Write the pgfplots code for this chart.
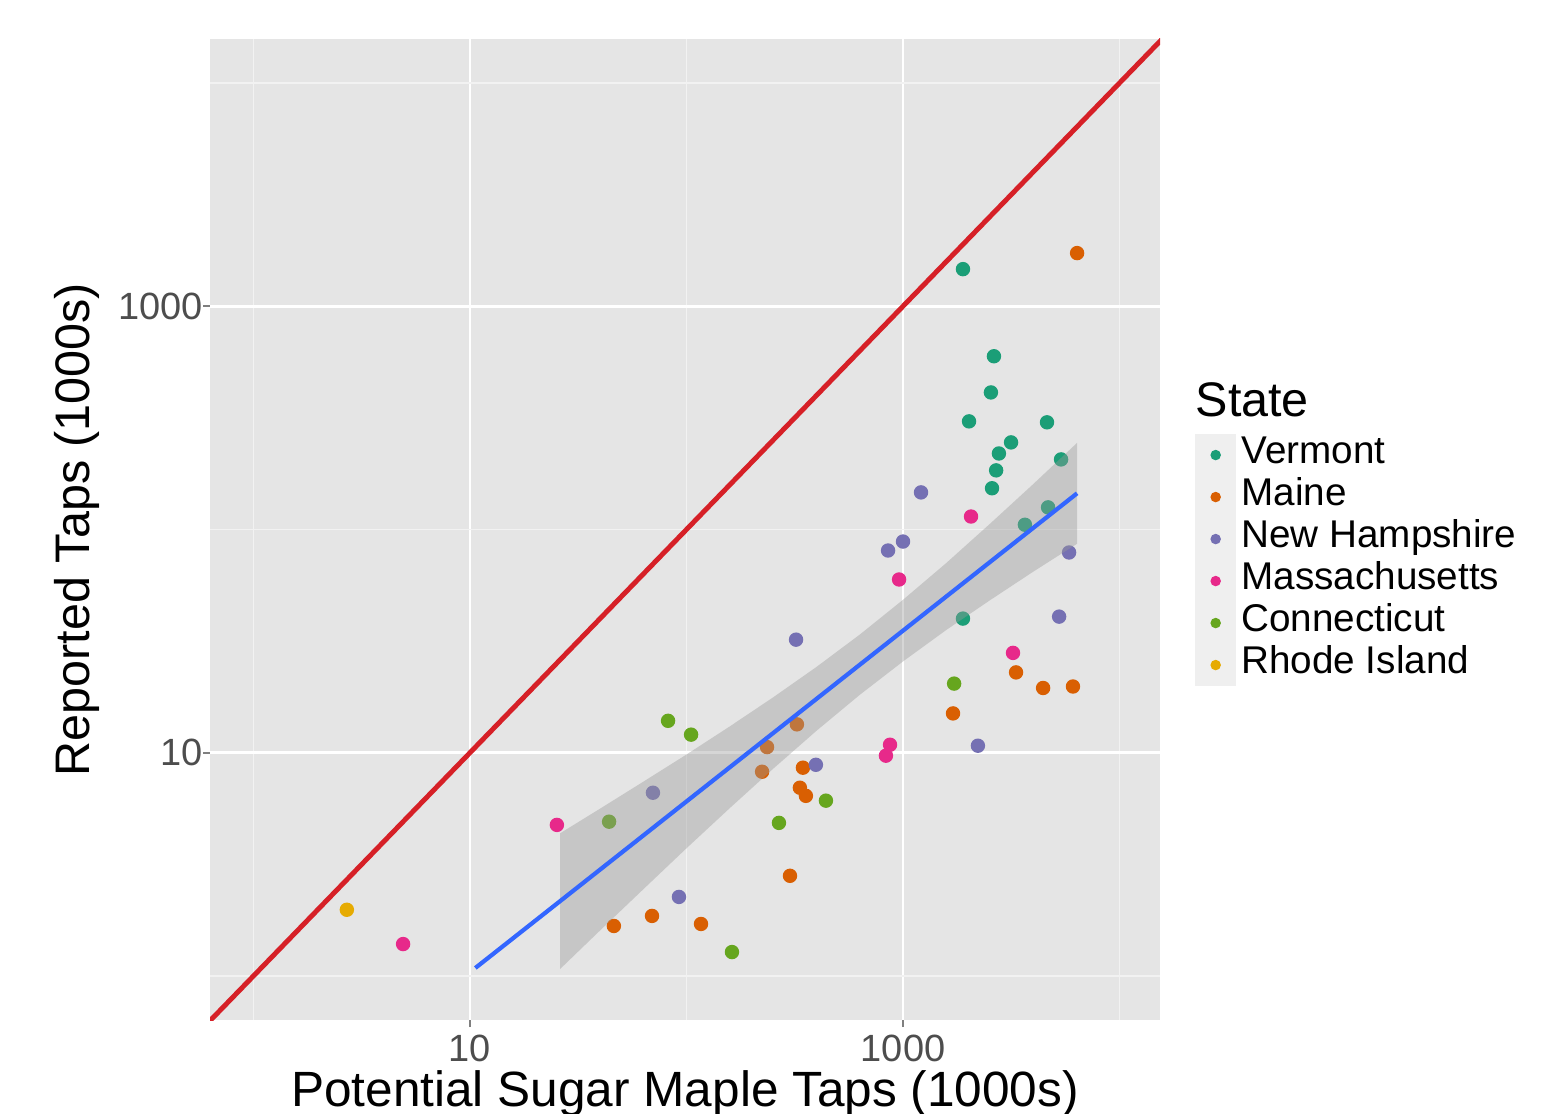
\documentclass[border=0pt]{standalone}
\usepackage{pgfplots}
\pgfplotsset{compat=1.18}
\usepackage{fontspec}
\setmainfont{Liberation Sans}

\definecolor{panelbg}{HTML}{E5E5E5}
\definecolor{minorgrid}{HTML}{F2F2F2}
\definecolor{keybg}{HTML}{EFEFEF}
\definecolor{ticklab}{HTML}{4D4D4D}
\definecolor{tickcol}{HTML}{7F7F7F}
\definecolor{vt}{HTML}{1B9E77}
\definecolor{me}{HTML}{D95F02}
\definecolor{nh}{HTML}{7570B3}
\definecolor{ma}{HTML}{E7298A}
\definecolor{ct}{HTML}{66A61E}
\definecolor{ri}{HTML}{E6AB02}
\definecolor{oneone}{HTML}{D62027}
\definecolor{smooth}{HTML}{3366FF}
\definecolor{band}{HTML}{999999}

\begin{document}
\begin{tikzpicture}
\useasboundingbox (0,0) rectangle (156.8mm,111.3mm);
\begin{axis}[
  at={(21.0mm,9.3mm)}, anchor=south west,
  scale only axis, width=95.0mm, height=98.1mm,
  xmode=log, ymode=log,
  xmin=0.63, xmax=15380, ymin=0.635, ymax=15740,
  clip mode=individual,
  axis background/.style={fill=panelbg},
  axis line style={draw=none},
  xtick={10,1000}, xticklabels={10,1000},
  ytick={10,1000}, yticklabels={10,1000},
  minor xtick={1,100,10000}, minor ytick={1,100,10000},
  xtick pos=left, ytick pos=left,
  grid=both,
  major grid style={white, line width=0.8pt},
  minor grid style={minorgrid, line width=0.45pt},
  tick align=outside, major tick length=0.7mm, minor tick length=0pt,
  tick style={tickcol, line width=0.5pt},
  ticklabel style={font=\fontsize{10.8}{12}\selectfont, text=ticklab},
  xticklabel style={yshift=0.4mm},
  yticklabel style={xshift=1.2mm},
  xlabel={Potential Sugar Maple Taps (1000s)},
  ylabel={Reported Taps (1000s)},
  every axis x label/.style={at={(axis description cs:0.5,0)}, anchor=base,
    yshift=-8.6mm, font=\fontsize{14.1}{16}\selectfont},
  every axis y label/.style={at={(axis description cs:-0.1032,0.5)}, rotate=90,
    anchor=south, font=\fontsize{13.8}{16}\selectfont},
  legend style={at={(axis description cs:1.0368,0.5973)}, anchor=north west,
    draw=none, fill=none, font=\fontsize{11}{13}\selectfont,
    row sep=0pt, inner sep=0pt, outer sep=0pt, column sep=0.5mm,
    nodes={inner sep=0pt, text height=2.9mm, text depth=1.3mm}},
  legend cell align=left,
  legend image code/.code={
    \fill[keybg] (-2mm,-2mm) rectangle (2mm,2mm);
    \draw[#1, mark size=0.45mm] plot coordinates {(0mm,0mm)};
  },
]
% points
\addplot[only marks, mark=*, mark size=0.65mm, color=vt] coordinates {
  (1892,1466) (2630,597) (2547,411) (2018,305) (4624,302) (3155,245.5)
  (2773,219) (2692,184) (2577,153) (5370,206) (4677,125.6) (3656,105)
  (1892,39.9)
};
\addlegendentry{Vermont}
\addplot[only marks, mark=*, mark size=0.65mm, color=me] coordinates {
  (6368,1730) (3327,22.9) (4436,19.5) (6095,19.8) (1702,15.0) (323.6,13.4)
  (235.5,10.6) (223.4,8.22) (345,8.57) (334,6.97) (356,6.41) (300.6,2.81)
  (46.2,1.675) (69.3,1.858) (116.7,1.710)
};
\addlegendentry{Maine}
\addplot[only marks, mark=*, mark size=0.65mm, color=nh] coordinates {
  (1211,146.6) (1000,88.3) (853,80.5) (5848,78.9) (5260,40.7) (320.6,32.1)
  (2218,10.75) (396,8.83) (70.0,6.62) (92.3,2.26)
};
\addlegendentry{New Hampshire}
\addplot[only marks, mark=*, mark size=0.65mm, color=ma] coordinates {
  (2061,114.3) (959,59.7) (3221,28.0) (871,10.86) (834,9.70) (25.2,4.75)
  (4.91,1.39)
};
\addlegendentry{Massachusetts}
\addplot[only marks, mark=*, mark size=0.65mm, color=ct] coordinates {
  (1722,20.4) (82.2,13.9) (105,12.05) (440.6,6.10) (267.3,4.85) (43.9,4.91)
  (162.2,1.28)
};
\addlegendentry{Connecticut}
\addplot[only marks, mark=*, mark size=0.65mm, color=ri] coordinates {
  (2.70,1.98)
};
\addlegendentry{Rhode Island}

% confidence band of the fit
\addplot[forget plot, draw=none, fill=band, fill opacity=0.4] coordinates {
  (26.06,4.355) (39.81,5.610) (63.10,7.413) (100,9.817) (158.5,13.12)
  (251.2,17.70) (398.1,24.21) (631.0,33.81) (1000,48.42) (1585,70.79)
  (2512,105.7) (3981,159.2) (6368,244.3)
  (6368,86.30) (3981,64.57) (2512,48.08) (1585,35.48) (1000,25.64)
  (631.0,18.16) (398.1,12.53) (251.2,8.472) (158.5,5.649) (100,3.733)
  (63.10,2.443) (39.81,1.596) (26.06,1.074)
} -- cycle;
% fitted line
\addplot[forget plot, color=smooth, line width=1.2pt] coordinates {
  (10.59,1.086) (6368,145.2)
};
% one-to-one line
\addplot[forget plot, color=oneone, line width=1.4pt] coordinates {
  (0.5,0.5) (20000,20000)
};

\node[anchor=base west, font=\fontsize{13.8}{16}\selectfont, inner sep=0pt]
  at (axis description cs:1.0368,0.6147) {State};
\end{axis}
\end{tikzpicture}
\end{document}
